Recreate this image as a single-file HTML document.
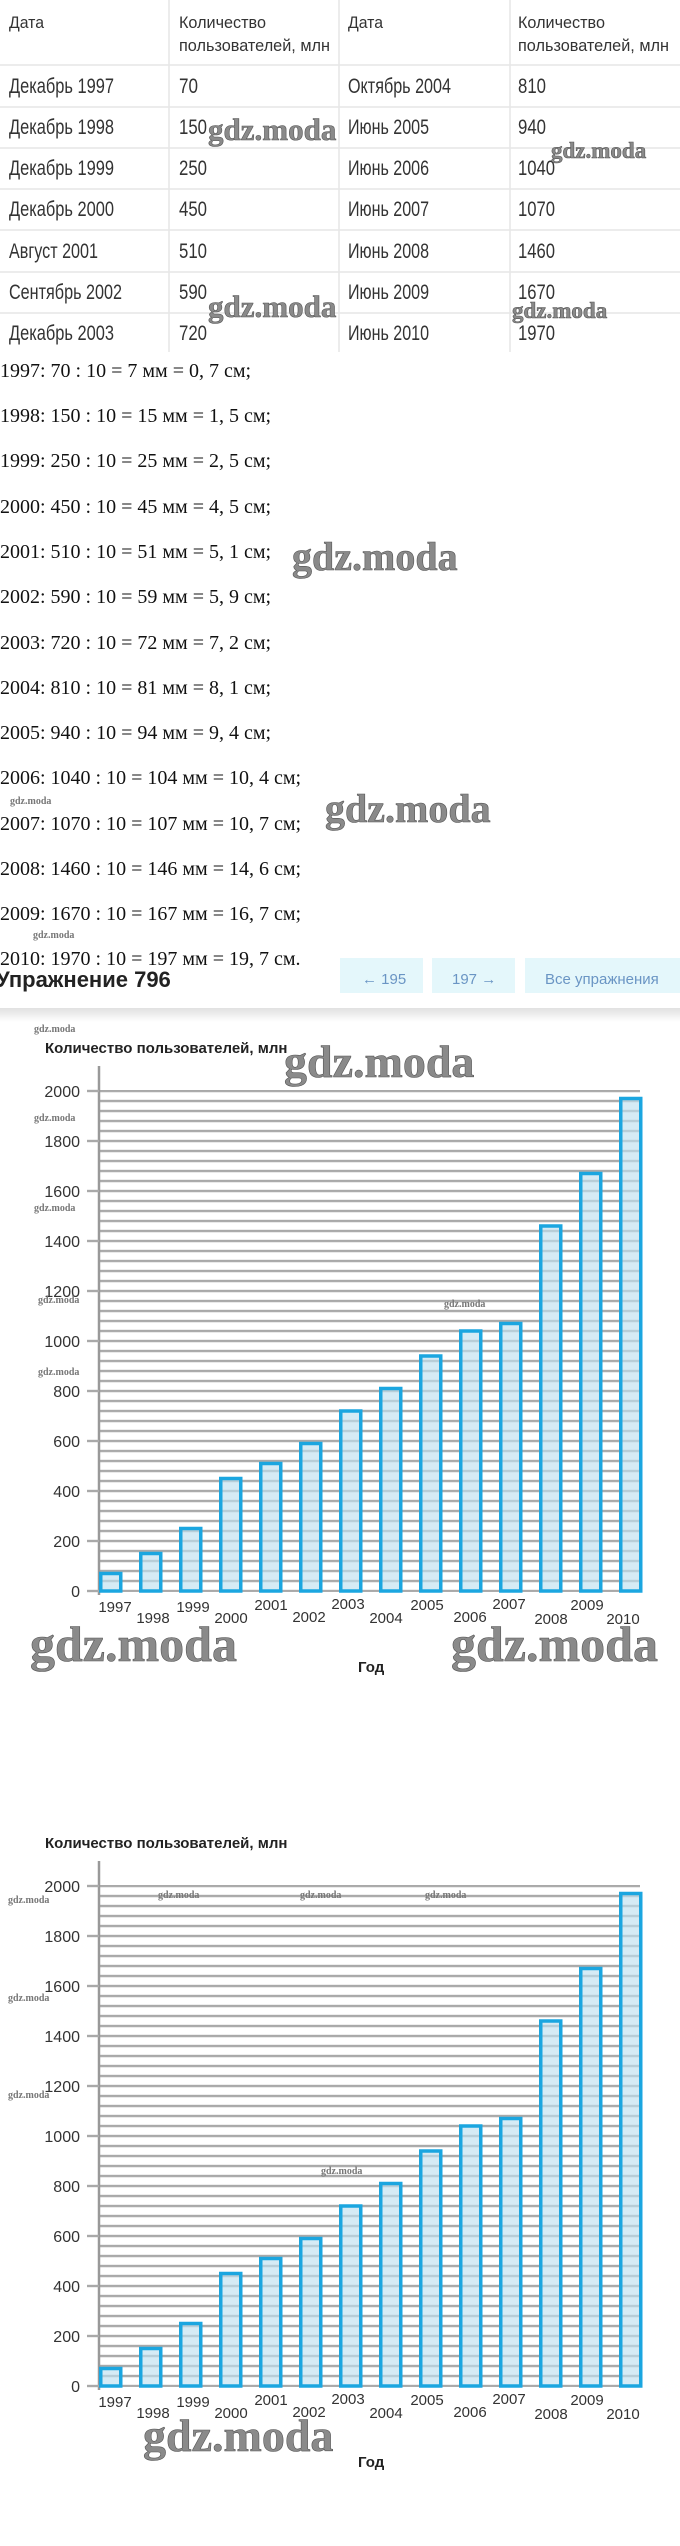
<!DOCTYPE html>
<html><head><meta charset="utf-8"><style>
html,body{margin:0;padding:0;background:#fff;}
svg{display:block;}
.t{font-family:"Liberation Sans Narrow","Liberation Sans",sans-serif;fill:#333;}
.m{font-family:"Liberation Serif",serif;font-size:20px;fill:#111;}
.s{font-family:"Liberation Sans",sans-serif;}
.w{font-family:"Liberation Serif",serif;font-weight:bold;fill:#8a8a8a;stroke:#555;stroke-width:0.6;}
.ws{font-family:"Liberation Serif",serif;font-weight:bold;fill:#777;font-size:10px;}
.yl{font-family:"Liberation Sans",sans-serif;font-size:16px;fill:#333;text-anchor:end;}
.xl{font-family:"Liberation Sans",sans-serif;font-size:15px;fill:#333;text-anchor:middle;}
</style></head><body>
<svg width="680" height="2546" viewBox="0 0 680 2546" xmlns="http://www.w3.org/2000/svg">
<defs>
<pattern id="g" width="640" height="10" patternUnits="userSpaceOnUse" patternTransform="translate(0,-1.2)">
<rect x="0" y="0" width="640" height="2.4" fill="#a9a9a9"/>
</pattern>
<linearGradient id="sh" x1="0" y1="0" x2="0" y2="1"><stop offset="0" stop-color="#000" stop-opacity="0.12"/><stop offset="1" stop-color="#000" stop-opacity="0"/></linearGradient>
</defs>
<!-- table -->
<g stroke="#e6e6e6" stroke-width="1.5">
<line x1="0" y1="65" x2="680" y2="65"/><line x1="0" y1="107" x2="680" y2="107"/><line x1="0" y1="148" x2="680" y2="148"/><line x1="0" y1="189" x2="680" y2="189"/><line x1="0" y1="230" x2="680" y2="230"/><line x1="0" y1="272" x2="680" y2="272"/><line x1="0" y1="313" x2="680" y2="313"/>
<line x1="169" y1="0" x2="169" y2="352"/><line x1="339" y1="0" x2="339" y2="352"/><line x1="510" y1="0" x2="510" y2="352"/>
</g>
<g class="t" font-size="17">
<text x="9" y="28" textLength="35" lengthAdjust="spacingAndGlyphs">Дата</text>
<text x="179" y="28" textLength="87" lengthAdjust="spacingAndGlyphs">Количество</text>
<text x="179" y="51" textLength="151" lengthAdjust="spacingAndGlyphs">пользователей, млн</text>
<text x="348" y="28" textLength="35" lengthAdjust="spacingAndGlyphs">Дата</text>
<text x="518" y="28" textLength="87" lengthAdjust="spacingAndGlyphs">Количество</text>
<text x="518" y="51" textLength="151" lengthAdjust="spacingAndGlyphs">пользователей, млн</text>
</g>
<g class="t" font-size="21">
<text x="9" y="93" textLength="105" lengthAdjust="spacingAndGlyphs">Декабрь 1997</text>
<text x="9" y="134" textLength="105" lengthAdjust="spacingAndGlyphs">Декабрь 1998</text>
<text x="9" y="175" textLength="105" lengthAdjust="spacingAndGlyphs">Декабрь 1999</text>
<text x="9" y="216" textLength="105" lengthAdjust="spacingAndGlyphs">Декабрь 2000</text>
<text x="9" y="258" textLength="89" lengthAdjust="spacingAndGlyphs">Август 2001</text>
<text x="9" y="299" textLength="113" lengthAdjust="spacingAndGlyphs">Сентябрь 2002</text>
<text x="9" y="340" textLength="105" lengthAdjust="spacingAndGlyphs">Декабрь 2003</text>
<text x="179" y="93" textLength="19" lengthAdjust="spacingAndGlyphs">70</text><text x="179" y="134" textLength="28" lengthAdjust="spacingAndGlyphs">150</text><text x="179" y="175" textLength="28" lengthAdjust="spacingAndGlyphs">250</text><text x="179" y="216" textLength="28" lengthAdjust="spacingAndGlyphs">450</text><text x="179" y="258" textLength="28" lengthAdjust="spacingAndGlyphs">510</text><text x="179" y="299" textLength="28" lengthAdjust="spacingAndGlyphs">590</text><text x="179" y="340" textLength="28" lengthAdjust="spacingAndGlyphs">720</text>
<text x="348" y="93" textLength="103" lengthAdjust="spacingAndGlyphs">Октябрь 2004</text>
<text x="348" y="134" textLength="81" lengthAdjust="spacingAndGlyphs">Июнь 2005</text>
<text x="348" y="175" textLength="81" lengthAdjust="spacingAndGlyphs">Июнь 2006</text>
<text x="348" y="216" textLength="81" lengthAdjust="spacingAndGlyphs">Июнь 2007</text>
<text x="348" y="258" textLength="81" lengthAdjust="spacingAndGlyphs">Июнь 2008</text>
<text x="348" y="299" textLength="81" lengthAdjust="spacingAndGlyphs">Июнь 2009</text>
<text x="348" y="340" textLength="81" lengthAdjust="spacingAndGlyphs">Июнь 2010</text>
<text x="518" y="93" textLength="28" lengthAdjust="spacingAndGlyphs">810</text><text x="518" y="134" textLength="28" lengthAdjust="spacingAndGlyphs">940</text><text x="518" y="175" textLength="37" lengthAdjust="spacingAndGlyphs">1040</text><text x="518" y="216" textLength="37" lengthAdjust="spacingAndGlyphs">1070</text><text x="518" y="258" textLength="37" lengthAdjust="spacingAndGlyphs">1460</text><text x="518" y="299" textLength="37" lengthAdjust="spacingAndGlyphs">1670</text><text x="518" y="340" textLength="37" lengthAdjust="spacingAndGlyphs">1970</text>
</g>
<text class="w" x="208" y="140" font-size="31">gdz.moda</text>
<text class="w" x="208" y="317" font-size="31">gdz.moda</text>
<text class="w" x="551" y="158" font-size="23">gdz.moda</text>
<text class="w" x="512" y="318" font-size="23">gdz.moda</text>
<!-- math -->
<g class="m">
<text x="0" y="377">1997: 70 : 10 = 7 мм = 0, 7 см;</text>
<text x="0" y="422">1998: 150 : 10 = 15 мм = 1, 5 см;</text>
<text x="0" y="467">1999: 250 : 10 = 25 мм = 2, 5 см;</text>
<text x="0" y="513">2000: 450 : 10 = 45 мм = 4, 5 см;</text>
<text x="0" y="558">2001: 510 : 10 = 51 мм = 5, 1 см;</text>
<text x="0" y="603">2002: 590 : 10 = 59 мм = 5, 9 см;</text>
<text x="0" y="649">2003: 720 : 10 = 72 мм = 7, 2 см;</text>
<text x="0" y="694">2004: 810 : 10 = 81 мм = 8, 1 см;</text>
<text x="0" y="739">2005: 940 : 10 = 94 мм = 9, 4 см;</text>
<text x="0" y="784">2006: 1040 : 10 = 104 мм = 10, 4 см;</text>
<text x="0" y="830">2007: 1070 : 10 = 107 мм = 10, 7 см;</text>
<text x="0" y="875">2008: 1460 : 10 = 146 мм = 14, 6 см;</text>
<text x="0" y="920">2009: 1670 : 10 = 167 мм = 16, 7 см;</text>
<text x="0" y="965">2010: 1970 : 10 = 197 мм = 19, 7 см.</text>
</g>
<text class="w" x="292" y="570" font-size="40">gdz.moda</text>
<text class="w" x="325" y="822" font-size="40">gdz.moda</text>
<text class="ws" x="10" y="804">gdz.moda</text>
<text class="ws" x="33" y="938">gdz.moda</text>
<!-- header band -->
<rect x="340" y="958" width="83" height="35" fill="#e4f7fb"/>
<rect x="432" y="958" width="83" height="35" fill="#e4f7fb"/>
<rect x="525" y="958" width="155" height="35" fill="#e4f7fb"/>
<g class="s" font-size="15" fill="#6a95c4">
<text x="362" y="984">←  195</text><text x="452" y="984">197  →</text><text x="545" y="984">Все упражнения</text>
</g>
<text class="s" x="-4" y="987" font-size="22" font-weight="bold" fill="#222">Упражнение 796</text>
<rect x="0" y="1008" width="680" height="14" fill="url(#sh)"/>

<!-- chart 1 -->
<g transform="translate(0,1591)">
<text class="s" x="45" y="-538" font-size="15" font-weight="bold" fill="#222">Количество пользователей, млн</text>
<rect x="99" y="-501" width="541" height="502" fill="url(#g)"/>
<line x1="99" y1="-525" x2="99" y2="4" stroke="#999" stroke-width="2.5"/>
<g stroke="#a9a9a9" stroke-width="2.4"><line x1="87" y1="0" x2="99" y2="0"/><line x1="87" y1="-50" x2="99" y2="-50"/><line x1="87" y1="-100" x2="99" y2="-100"/><line x1="87" y1="-150" x2="99" y2="-150"/><line x1="87" y1="-200" x2="99" y2="-200"/><line x1="87" y1="-250" x2="99" y2="-250"/><line x1="87" y1="-300" x2="99" y2="-300"/><line x1="87" y1="-350" x2="99" y2="-350"/><line x1="87" y1="-400" x2="99" y2="-400"/><line x1="87" y1="-450" x2="99" y2="-450"/><line x1="87" y1="-500" x2="99" y2="-500"/></g>
<g class="yl"><text x="80" y="6">0</text><text x="80" y="-44">200</text><text x="80" y="-94">400</text><text x="80" y="-144">600</text><text x="80" y="-194">800</text><text x="80" y="-244">1000</text><text x="80" y="-294">1200</text><text x="80" y="-344">1400</text><text x="80" y="-394">1600</text><text x="80" y="-444">1800</text><text x="80" y="-494">2000</text></g>
<g fill="rgba(190,225,240,0.65)" stroke="#1ba6e0" stroke-width="3.5">
<rect x="100.75" y="-17.5" width="20" height="17.5"/><rect x="140.75" y="-37.5" width="20" height="37.5"/><rect x="180.75" y="-62.5" width="20" height="62.5"/><rect x="220.75" y="-112.5" width="20" height="112.5"/><rect x="260.75" y="-127.5" width="20" height="127.5"/><rect x="300.75" y="-147.5" width="20" height="147.5"/><rect x="340.75" y="-180" width="20" height="180"/><rect x="380.75" y="-202.5" width="20" height="202.5"/><rect x="420.75" y="-235" width="20" height="235"/><rect x="460.75" y="-260" width="20" height="260"/><rect x="500.75" y="-267.5" width="20" height="267.5"/><rect x="540.75" y="-365" width="20" height="365"/><rect x="580.75" y="-417.5" width="20" height="417.5"/><rect x="620.75" y="-492.5" width="20" height="492.5"/>
</g>
<g class="xl"><text x="115" y="21">1997</text><text x="153" y="32">1998</text><text x="193" y="21">1999</text><text x="231" y="32">2000</text><text x="271" y="19">2001</text><text x="309" y="31">2002</text><text x="348" y="18">2003</text><text x="386" y="32">2004</text><text x="427" y="19">2005</text><text x="470" y="31">2006</text><text x="509" y="18">2007</text><text x="551" y="33">2008</text><text x="587" y="19">2009</text><text x="623" y="33">2010</text></g>
<text class="s" x="358" y="81" font-size="15" font-weight="bold" fill="#222">Год</text>
<text class="w" x="284" y="-514" font-size="46">gdz.moda</text>
<text class="w" x="30" y="70" font-size="50">gdz.moda</text>
<text class="w" x="451" y="70" font-size="50">gdz.moda</text>
<text class="ws" x="34" y="-559">gdz.moda</text>
<text class="ws" x="34" y="-470">gdz.moda</text>
<text class="ws" x="34" y="-380">gdz.moda</text>
<text class="ws" x="38" y="-288">gdz.moda</text>
<text class="ws" x="38" y="-216">gdz.moda</text>
<text class="ws" x="444" y="-284">gdz.moda</text>
</g>

<!-- chart 2 -->
<g transform="translate(0,2386)">
<text class="s" x="45" y="-538" font-size="15" font-weight="bold" fill="#222">Количество пользователей, млн</text>
<rect x="99" y="-501" width="541" height="502" fill="url(#g)"/>
<line x1="99" y1="-525" x2="99" y2="4" stroke="#999" stroke-width="2.5"/>
<g stroke="#a9a9a9" stroke-width="2.4"><line x1="87" y1="0" x2="99" y2="0"/><line x1="87" y1="-50" x2="99" y2="-50"/><line x1="87" y1="-100" x2="99" y2="-100"/><line x1="87" y1="-150" x2="99" y2="-150"/><line x1="87" y1="-200" x2="99" y2="-200"/><line x1="87" y1="-250" x2="99" y2="-250"/><line x1="87" y1="-300" x2="99" y2="-300"/><line x1="87" y1="-350" x2="99" y2="-350"/><line x1="87" y1="-400" x2="99" y2="-400"/><line x1="87" y1="-450" x2="99" y2="-450"/><line x1="87" y1="-500" x2="99" y2="-500"/></g>
<g class="yl"><text x="80" y="6">0</text><text x="80" y="-44">200</text><text x="80" y="-94">400</text><text x="80" y="-144">600</text><text x="80" y="-194">800</text><text x="80" y="-244">1000</text><text x="80" y="-294">1200</text><text x="80" y="-344">1400</text><text x="80" y="-394">1600</text><text x="80" y="-444">1800</text><text x="80" y="-494">2000</text></g>
<g fill="rgba(190,225,240,0.65)" stroke="#1ba6e0" stroke-width="3.5">
<rect x="100.75" y="-17.5" width="20" height="17.5"/><rect x="140.75" y="-37.5" width="20" height="37.5"/><rect x="180.75" y="-62.5" width="20" height="62.5"/><rect x="220.75" y="-112.5" width="20" height="112.5"/><rect x="260.75" y="-127.5" width="20" height="127.5"/><rect x="300.75" y="-147.5" width="20" height="147.5"/><rect x="340.75" y="-180" width="20" height="180"/><rect x="380.75" y="-202.5" width="20" height="202.5"/><rect x="420.75" y="-235" width="20" height="235"/><rect x="460.75" y="-260" width="20" height="260"/><rect x="500.75" y="-267.5" width="20" height="267.5"/><rect x="540.75" y="-365" width="20" height="365"/><rect x="580.75" y="-417.5" width="20" height="417.5"/><rect x="620.75" y="-492.5" width="20" height="492.5"/>
</g>
<g class="xl"><text x="115" y="21">1997</text><text x="153" y="32">1998</text><text x="193" y="21">1999</text><text x="231" y="32">2000</text><text x="271" y="19">2001</text><text x="309" y="31">2002</text><text x="348" y="18">2003</text><text x="386" y="32">2004</text><text x="427" y="19">2005</text><text x="470" y="31">2006</text><text x="509" y="18">2007</text><text x="551" y="33">2008</text><text x="587" y="19">2009</text><text x="623" y="33">2010</text></g>
<text class="s" x="358" y="81" font-size="15" font-weight="bold" fill="#222">Год</text>
<text class="w" x="143" y="65" font-size="46">gdz.moda</text>
<text class="ws" x="158" y="-488">gdz.moda</text>
<text class="ws" x="300" y="-488">gdz.moda</text>
<text class="ws" x="425" y="-488">gdz.moda</text>
<text class="ws" x="8" y="-483">gdz.moda</text>
<text class="ws" x="8" y="-385">gdz.moda</text>
<text class="ws" x="8" y="-288">gdz.moda</text>
<text class="ws" x="321" y="-212">gdz.moda</text>
</g>
</svg>
</body></html>
